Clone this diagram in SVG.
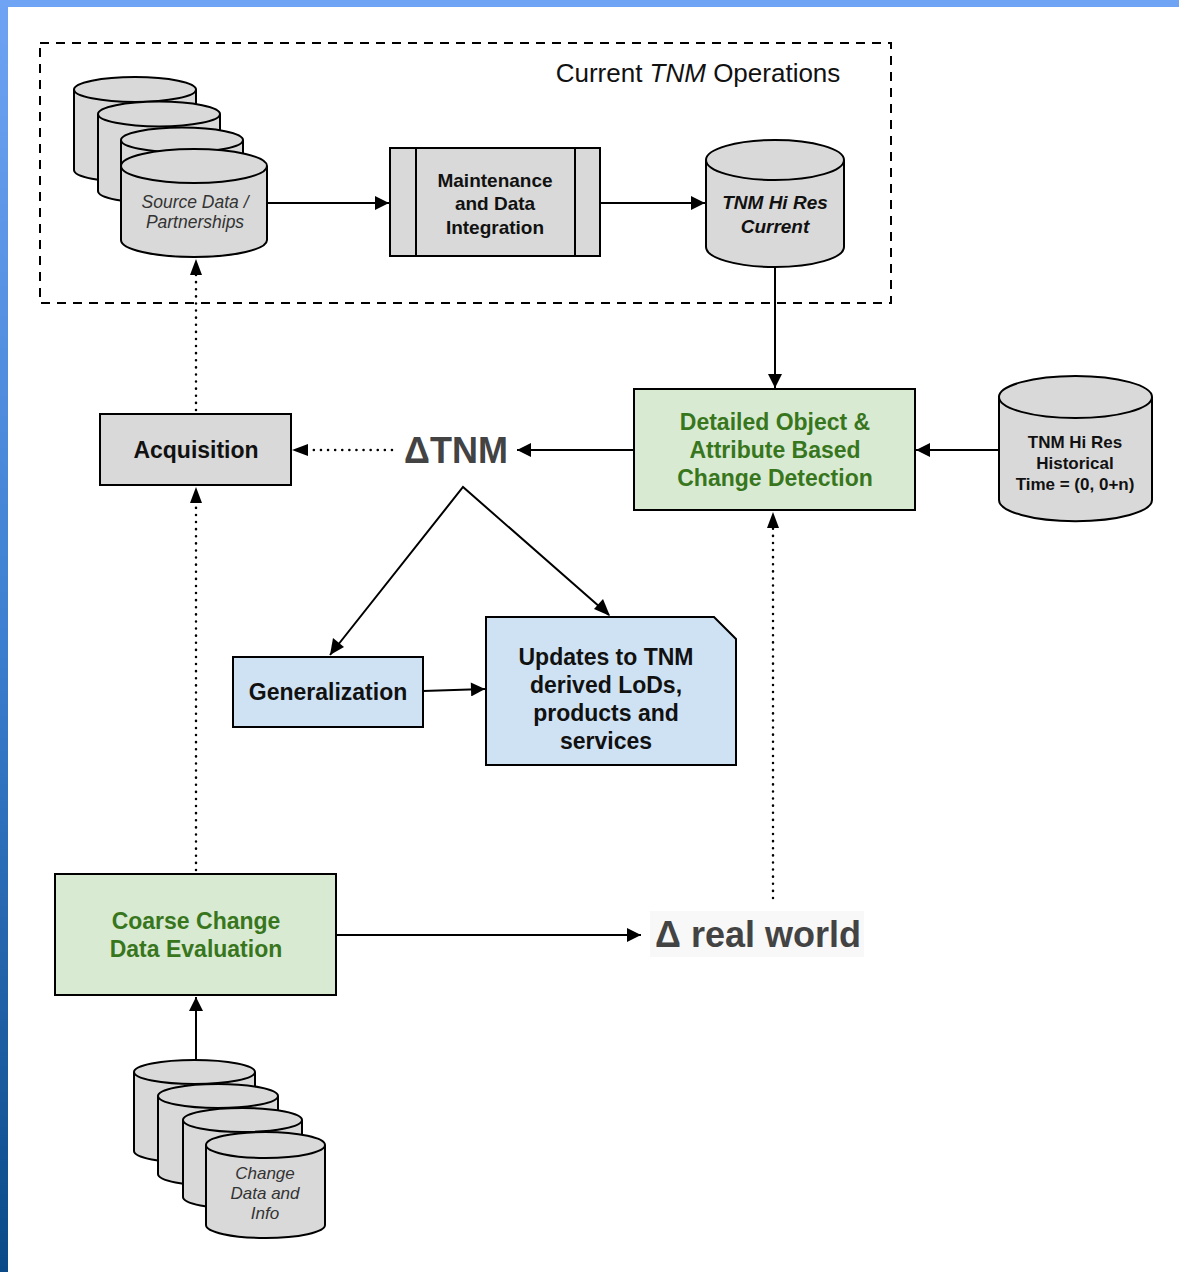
<svg xmlns="http://www.w3.org/2000/svg" width="1179" height="1272" viewBox="0 0 1179 1272">
<defs>
<linearGradient id="lb" x1="0" y1="0" x2="0" y2="1">
<stop offset="0" stop-color="#6fa3f3"/>
<stop offset="0.5" stop-color="#3d7fd0"/>
<stop offset="1" stop-color="#0a4a88"/>
</linearGradient>
<marker id="ahb" viewBox="0 0 10 10" refX="10" refY="5" markerWidth="16" markerHeight="14" markerUnits="userSpaceOnUse" orient="auto">
<path d="M0,0 L10,5 L0,10 z" fill="#000"/>
</marker>
</defs>
<style>
.cyl{fill:#d9d9d9;stroke:#000;stroke-width:2}
.box{stroke:#000;stroke-width:2}
.gray{fill:#d9d9d9}
.green{fill:#d9ead3}
.blue{fill:#cfe2f3}
.ln{fill:none;stroke:#000;stroke-width:2}
.dot{fill:none;stroke:#000;stroke-width:2.5;stroke-dasharray:0.1 7;stroke-linecap:round}
.t{font-family:"Liberation Sans",Arial,sans-serif;text-anchor:middle}
.b{font-weight:bold}
.i{font-style:italic}
.gt{fill:#38761d;font-weight:bold;font-size:23px}
.bt{fill:#111;font-weight:bold;font-size:23px}
.delta{fill:#434343;font-weight:bold;font-size:36px}
</style>
<rect x="0" y="0" width="1179" height="1272" fill="#fff"/>
<rect x="0" y="0" width="1179" height="7" fill="#6fa3f3"/>
<rect x="0" y="0" width="8" height="1272" fill="url(#lb)"/>

<g id="operations">
<rect x="40" y="43" width="851" height="260" fill="none" stroke="#000" stroke-width="2" stroke-dasharray="9 7"/>
<text class="t" x="698" y="82" font-size="26" fill="#111">Current <tspan font-style="italic">TNM</tspan> Operations</text>
</g>

<g id="source-data">
<path class="cyl" d="M74,89.5 L74,170 A61,12.5 0 0 0 196,170 L196,89.5"/>
<ellipse class="cyl" cx="135" cy="89.5" rx="61" ry="12.5"/>
<path class="cyl" d="M98,114 L98,191 A61,12.5 0 0 0 220,191 L220,114"/>
<ellipse class="cyl" cx="159" cy="114" rx="61" ry="12.5"/>
<path class="cyl" d="M121,140 L121,215 A61,12.5 0 0 0 243,215 L243,140"/>
<ellipse class="cyl" cx="182" cy="140" rx="61" ry="12.5"/>
<path class="cyl" d="M121,166 L121,240 A73,17 0 0 0 267,240 L267,166"/>
<ellipse class="cyl" cx="194" cy="166" rx="73" ry="17"/>
<text class="t i" x="195" y="208" font-size="17.5" fill="#333">Source Data /</text>
<text class="t i" x="195" y="228" font-size="17.5" fill="#333">Partnerships</text>
</g>

<g id="maintenance">
<rect class="box gray" x="390" y="148" width="210" height="108"/>
<line class="ln" x1="416" y1="148" x2="416" y2="256"/>
<line class="ln" x1="575" y1="148" x2="575" y2="256"/>
<text class="t b" x="495" y="187" font-size="19" fill="#111">Maintenance</text>
<text class="t b" x="495" y="210" font-size="19" fill="#111">and Data</text>
<text class="t b" x="495" y="234" font-size="19" fill="#111">Integration</text>
</g>

<g id="tnm-current">
<path class="cyl" d="M706,160 L706,247 A69,20 0 0 0 844,247 L844,160"/>
<ellipse class="cyl" cx="775" cy="160" rx="69" ry="20"/>
<text class="t b i" x="775" y="209" font-size="19" fill="#111">TNM Hi Res</text>
<text class="t b i" x="775" y="233" font-size="19" fill="#111">Current</text>
</g>

<g id="detailed">
<rect class="box green" x="634" y="389" width="281" height="121"/>
<text class="t gt" x="775" y="430">Detailed Object &amp;</text>
<text class="t gt" x="775" y="458">Attribute Based</text>
<text class="t gt" x="775" y="486">Change Detection</text>
</g>

<g id="tnm-historical">
<path class="cyl" d="M999,397 L999,500 A76,21 0 0 0 1152,500 L1152,397"/>
<ellipse class="cyl" cx="1075.5" cy="397" rx="76.5" ry="21"/>
<text class="t b" x="1075" y="448" font-size="17" fill="#111">TNM Hi Res</text>
<text class="t b" x="1075" y="469" font-size="17" fill="#111">Historical</text>
<text class="t b" x="1075" y="490" font-size="17" fill="#111">Time = (0, 0+n)</text>
</g>

<g id="delta-tnm">
<text class="t delta" x="456" y="463">ΔTNM</text>
</g>

<g id="acquisition">
<rect class="box gray" x="100" y="414" width="191" height="71"/>
<text class="t bt" x="196" y="458">Acquisition</text>
</g>

<g id="generalization">
<rect class="box blue" x="233" y="657" width="190" height="70"/>
<text class="t bt" x="328" y="700">Generalization</text>
</g>

<g id="updates">
<path class="box blue" d="M486,617 L714,617 L736,639 L736,765 L486,765 Z"/>
<text class="t bt" x="606" y="665">Updates to TNM</text>
<text class="t bt" x="606" y="693">derived LoDs,</text>
<text class="t bt" x="606" y="721">products and</text>
<text class="t bt" x="606" y="749">services</text>
</g>

<g id="coarse">
<rect class="box green" x="55" y="874" width="281" height="121"/>
<text class="t gt" x="196" y="929">Coarse Change</text>
<text class="t gt" x="196" y="957">Data Evaluation</text>
</g>

<g id="delta-real-world">
<rect x="650" y="911" width="214" height="46" fill="#f8f8f8"/>
<text class="t delta" x="758" y="947">Δ real world</text>
</g>

<g id="change-data">
<path class="cyl" d="M134,1072 L134,1151 A60.5,12 0 0 0 255,1151 L255,1072"/>
<ellipse class="cyl" cx="194.5" cy="1072" rx="60.5" ry="12"/>
<path class="cyl" d="M158,1096 L158,1174 A60,12 0 0 0 278,1174 L278,1096"/>
<ellipse class="cyl" cx="218" cy="1096" rx="60" ry="12"/>
<path class="cyl" d="M183,1120 L183,1197 A59.5,12 0 0 0 302,1197 L302,1120"/>
<ellipse class="cyl" cx="242.5" cy="1120" rx="59.5" ry="12"/>
<path class="cyl" d="M206,1145 L206,1225 A59.5,13 0 0 0 325,1225 L325,1145"/>
<ellipse class="cyl" cx="265.5" cy="1145" rx="59.5" ry="13"/>
<text class="t i" x="265" y="1179" font-size="17" fill="#333">Change</text>
<text class="t i" x="265" y="1199" font-size="17" fill="#333">Data and</text>
<text class="t i" x="265" y="1219" font-size="17" fill="#333">Info</text>
</g>

<g id="connectors">
<line class="ln" x1="267" y1="203" x2="389" y2="203" marker-end="url(#ahb)"/>
<line class="ln" x1="600" y1="203" x2="705" y2="203" marker-end="url(#ahb)"/>
<line class="ln" x1="775" y1="267" x2="775" y2="388" marker-end="url(#ahb)"/>
<line class="ln" x1="999" y1="450" x2="916" y2="450" marker-end="url(#ahb)"/>
<line class="ln" x1="634" y1="450" x2="517" y2="450" marker-end="url(#ahb)"/>
<line class="dot" x1="392" y1="450" x2="300" y2="450"/>
<path d="M292,450 L308,444 L308,456 Z" fill="#000"/>
<line class="dot" x1="196" y1="410" x2="196" y2="272"/>
<path d="M196,259 L190,275 L202,275 Z" fill="#000"/>
<line class="dot" x1="196" y1="870" x2="196" y2="500"/>
<path d="M196,487 L190,503 L202,503 Z" fill="#000"/>
<line class="dot" x1="773" y1="898" x2="773" y2="526"/>
<path d="M773,512 L767,528 L779,528 Z" fill="#000"/>
<path class="ln" d="M330,655 L463,487 L609,615"/>
<path d="M330,655 L333,638 L344,647 Z" fill="#000"/>
<path d="M610,616 L594,609 L603,599 Z" fill="#000"/>
<line class="ln" x1="423" y1="691" x2="485" y2="689" marker-end="url(#ahb)"/>
<line class="ln" x1="336" y1="935" x2="641" y2="935" marker-end="url(#ahb)"/>
<line class="ln" x1="196" y1="1059" x2="196" y2="997" marker-end="url(#ahb)"/>
</g>
</svg>
